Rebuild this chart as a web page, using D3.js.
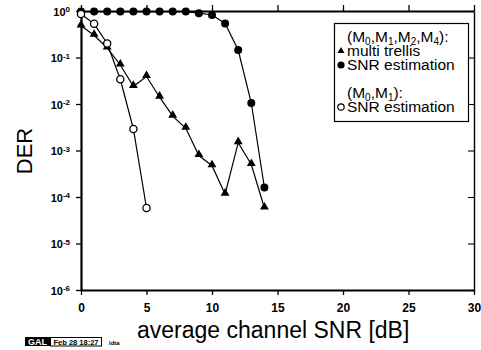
<!DOCTYPE html>
<html>
<head>
<meta charset="utf-8">
<script src="https://cdn.jsdelivr.net/npm/d3@7"></script>
<style>
  body { margin: 0; background: #fff; }
  svg { font-family: "Liberation Sans", Arial, sans-serif; }
  .axis path, .axis line { stroke: #000; }
  .series { fill: none; stroke: #000; stroke-width: 1.2; }
</style>
</head>
<body>
<svg class="chart"></svg>
<script>
var width = 481,
    height = 350;

// x: average channel SNR [dB]
var snr = [0, 1, 2, 3, 4, 5, 6, 7, 8, 9, 10, 11, 12, 13, 14];
// (M0,M1,M2,M4) multi trellis
var trellis = [0.48, 0.3, 0.16, 0.069, 0.024, 0.039, 0.014, 0.0055, 0.003, 7.8e-4, 4.7e-4, 1.15e-4, 1.47e-3, 5e-4, 5.8e-5];
// (M0,M1,M2,M4) SNR estimation
var snrEst4 = [0.97, 0.97, 0.97, 0.97, 0.97, 0.97, 0.97, 0.97, 0.97, 0.9, 0.82, 0.54, 0.145, 0.0105, 1.6e-4];
// (M0,M1) SNR estimation
var snr01 = [0, 1, 2, 3, 4, 5];
var snrEst1 = [0.86, 0.53, 0.2, 0.034, 0.0029, 5.8e-5];

var xTicks = [0, 5, 10, 15, 20, 25, 30];
var yTicks = [1e0, 1e-1, 1e-2, 1e-3, 1e-4, 1e-5, 1e-6];

var svg = d3.select(".chart")
    .attr("width", width)
    .attr("height", height);

var mLeft = 81, mRight = 474, mTop = 11, mBottom = 290;

var x = d3.scaleLinear().domain([0, 30]).range([mLeft, mRight]);
var y = d3.scaleLog().domain([1e-6, 1]).range([mBottom, mTop]);

// axes
var gx = svg.append("g")
    .attr("class", "axis")
    .attr("transform", "translate(0," + mBottom + ")")
    .call(d3.axisBottom(x).tickValues(xTicks).tickSize(5).tickSizeOuter(0));
gx.select(".domain").attr("stroke-width", 2.2);
gx.selectAll(".tick line").attr("stroke-width", 1.3);
gx.selectAll(".tick text")
    .attr("y", 13)
    .attr("dy", "0.71em")
    .attr("font-size", 12)
    .attr("font-weight", "bold");

var gt = svg.append("g")
    .attr("class", "axis")
    .attr("transform", "translate(0," + mTop + ")")
    .call(d3.axisTop(x).tickValues(xTicks).tickSize(6).tickSizeOuter(0).tickFormat(""));
gt.select(".domain").attr("stroke-width", 2);
gt.selectAll(".tick line").attr("stroke-width", 1.3);

var gy = svg.append("g")
    .attr("class", "axis")
    .attr("transform", "translate(" + mLeft + ",0)")
    .call(d3.axisLeft(y).tickValues(yTicks).tickSize(5).tickSizeOuter(0).tickFormat(""));
gy.select(".domain").attr("stroke-width", 2.2);
gy.selectAll(".tick line").attr("stroke-width", 1.3);

var lab = gy.selectAll(".tick")
  .append("text")
    .attr("x", -11)
    .attr("dy", "0.38em")
    .attr("fill", "#000")
    .attr("text-anchor", "end")
    .attr("font-size", 11)
    .attr("font-weight", "bold");
lab.append("tspan").text("10");
lab.append("tspan")
    .attr("dy", "-0.45em")
    .attr("font-size", 8)
    .text((d) => String(Math.round(Math.log10(d))));

var gr = svg.append("g")
    .attr("class", "axis")
    .attr("transform", "translate(" + mRight + ",0)")
    .call(d3.axisLeft(y).tickValues(yTicks).tickSize(6).tickSizeOuter(0).tickFormat(""));
gr.select(".domain").attr("stroke-width", 1.4);
gr.selectAll(".tick line").attr("stroke-width", 1.1);

// axis titles
svg.append("text")
    .attr("transform", "translate(32,151) rotate(-90)")
    .attr("text-anchor", "middle")
    .attr("font-size", 22)
    .text("DER");

svg.append("text")
    .attr("x", 137)
    .attr("y", 338)
    .attr("font-size", 23)
    .text("average channel SNR [dB]");

// series
var line = d3.line()
    .x((d) => x(d[0]))
    .y((d) => y(d[1]));

var triangle = d3.symbol().type(d3.symbolTriangle).size(34);

function plot(xs, ys, marker) {
    var pts = xs.map((d, i) => [d, ys[i]]);
    svg.append("path")
        .attr("class", "series")
        .attr("d", line(pts));
    var g = svg.append("g");
    if (marker === "triangle") {
        g.selectAll("path")
          .data(pts)
          .enter()
            .append("path")
            .attr("d", triangle)
            .attr("transform", (d) => "translate(" + x(d[0]) + "," + (y(d[1]) - 1) + ")")
            .attr("fill", "#000");
    } else {
        g.selectAll("circle")
          .data(pts)
          .enter()
            .append("circle")
            .attr("cx", (d) => x(d[0]))
            .attr("cy", (d) => y(d[1]))
            .attr("r", marker === "open" ? 3.6 : 4)
            .attr("fill", marker === "open" ? "#fff" : "#000")
            .attr("stroke", "#000")
            .attr("stroke-width", marker === "open" ? 1.3 : 0);
    }
}

plot(snr, snrEst4, "filled");
plot(snr, trellis, "triangle");
plot(snr01, snrEst1, "open");

// legend
var legend = svg.append("g").attr("font-size", 15.5);
legend.append("rect")
    .attr("x", 334.5).attr("y", 23.5)
    .attr("width", 134).attr("height", 98)
    .attr("fill", "#fff")
    .attr("stroke", "#000")
    .attr("stroke-width", 1.2);

function mtext(yy, parts) {
    var t = legend.append("text").attr("x", 347).attr("y", yy);
    var shift = 0;
    t.append("tspan").text("(");
    parts.forEach(function(p, i) {
        t.append("tspan").attr("dy", -shift).text((i ? "," : "") + "M");
        t.append("tspan").attr("font-size", 10).attr("dy", 3).text(p);
        shift = 3;
    });
    t.append("tspan").attr("dy", -shift).text("):");
}
mtext(42, ["0", "1", "2", "4"]);
legend.append("path")
    .attr("d", triangle.size(22))
    .attr("transform", "translate(341,51)");
legend.append("text").attr("x", 347).attr("y", 56).text("multi trellis");
legend.append("circle").attr("cx", 341).attr("cy", 65).attr("r", 3.6);
legend.append("text").attr("x", 347).attr("y", 70).text("SNR estimation");
mtext(98, ["0", "1"]);
legend.append("circle")
    .attr("cx", 341).attr("cy", 107).attr("r", 3.2)
    .attr("fill", "#fff").attr("stroke", "#000").attr("stroke-width", 1.2);
legend.append("text").attr("x", 347).attr("y", 112).text("SNR estimation");

// plot stamp
var stamp = svg.append("g").attr("font-size", 8).attr("font-weight", "bold");
stamp.append("rect").attr("x", 25).attr("y", 337).attr("width", 25).attr("height", 9).attr("fill", "#000");
stamp.append("text").attr("x", 37.5).attr("y", 345).attr("text-anchor", "middle").attr("fill", "#fff").attr("font-size", 9).text("GAL");
stamp.append("rect").attr("x", 50.5).attr("y", 337.5).attr("width", 51).attr("height", 8.5)
    .attr("fill", "#fff").attr("stroke", "#000").attr("stroke-width", 1);
stamp.append("text").attr("x", 76).attr("y", 345).attr("text-anchor", "middle").attr("font-size", 7.5).text("Feb 28 18:27");
stamp.append("text").attr("x", 109).attr("y", 345).attr("font-size", 6).text("ldta");
</script>
</body>
</html>
